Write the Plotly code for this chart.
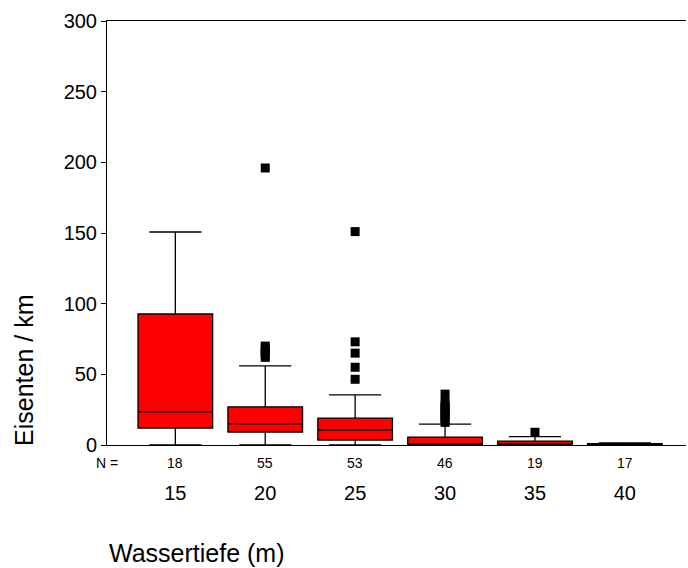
import plotly.graph_objects as go

# --- data ---
categories = ["15", "20", "25", "30", "35", "40"]
n_counts = [18, 55, 53, 46, 19, 17]
q1 = [12.0, 9.2, 3.5, 0.0, 0.0, 0.0]
median = [23.4, 14.9, 10.6, 0.5, 0.4, 0.2]
q3 = [92.7, 27.0, 19.0, 5.6, 2.8, 1.0]
lower_fence = [0.0, 0.0, 0.0, 0.0, 0.0, 0.0]
upper_fence = [150.7, 56.0, 35.4, 14.8, 5.9, 1.4]

outlier_cats = ["20"] * 6 + ["25"] * 5 + ["30"] * 9 + ["35"]
outlier_vals = [196, 62, 64, 66, 68, 70,
                151, 73, 65, 55, 46.5,
                36, 30, 28, 26, 24, 22, 20, 18, 16,
                9]

y_ticks = [0, 50, 100, 150, 200, 250, 300]

FONT = "Liberation Sans, Arial, sans-serif"

fig = go.Figure()
fig.add_trace(go.Box(
    x=categories, q1=q1, median=median, q3=q3,
    lowerfence=lower_fence, upperfence=upper_fence,
    fillcolor="#FF0000", line=dict(color="black", width=1.3),
    boxpoints=False, width=0.83, whiskerwidth=0.7, showlegend=False,
))
fig.add_trace(go.Scatter(
    x=outlier_cats, y=outlier_vals, mode="markers",
    marker=dict(symbol="square", size=9, color="black"),
    showlegend=False, cliponaxis=False,
))

# N labels (category index positions)
for i, n in enumerate(n_counts):
    fig.add_annotation(x=i, xref="x", y=0, yref="paper", yshift=-18,
                       text=str(n), showarrow=False, yanchor="middle",
                       font=dict(size=14, color="black", family=FONT))
fig.add_annotation(x=0, xref="paper", y=0, yref="paper", yshift=-18,
                   text="N =", showarrow=False, xanchor="center", yanchor="middle",
                   font=dict(size=14, color="black", family=FONT))

# axis titles
fig.add_annotation(x=0, xref="paper", xshift=-83, y=(445 - 371) / 424, yref="paper",
                   text="Eisenten / km", textangle=-90, showarrow=False,
                   xanchor="center", yanchor="middle",
                   font=dict(size=25, color="black", family=FONT))
fig.add_annotation(x=0, xref="paper", y=0, yref="paper", yshift=-108,
                   text="Wassertiefe (m)", showarrow=False,
                   xanchor="left", yanchor="middle",
                   font=dict(size=25, color="black", family=FONT))

fig.update_layout(
    width=688, height=568,
    margin=dict(l=107, r=2, t=21, b=123),
    plot_bgcolor="white", paper_bgcolor="white",
    font=dict(family=FONT, color="black"),
    xaxis=dict(
        type="category", categoryorder="array", categoryarray=categories,
        range=[-0.76, 5.68], showline=True, linecolor="black", linewidth=1,
        mirror=True, showgrid=False, ticks="", tickfont=dict(size=20),
        ticklabelstandoff=30,
    ),
    yaxis=dict(
        range=[0, 300], tickvals=y_ticks, ticks="outside", ticklen=5,
        tickcolor="black", showline=True, linecolor="black", linewidth=1,
        showgrid=False, zeroline=False, tickfont=dict(size=20),
    ),
)

fig.write_html("out.html")
